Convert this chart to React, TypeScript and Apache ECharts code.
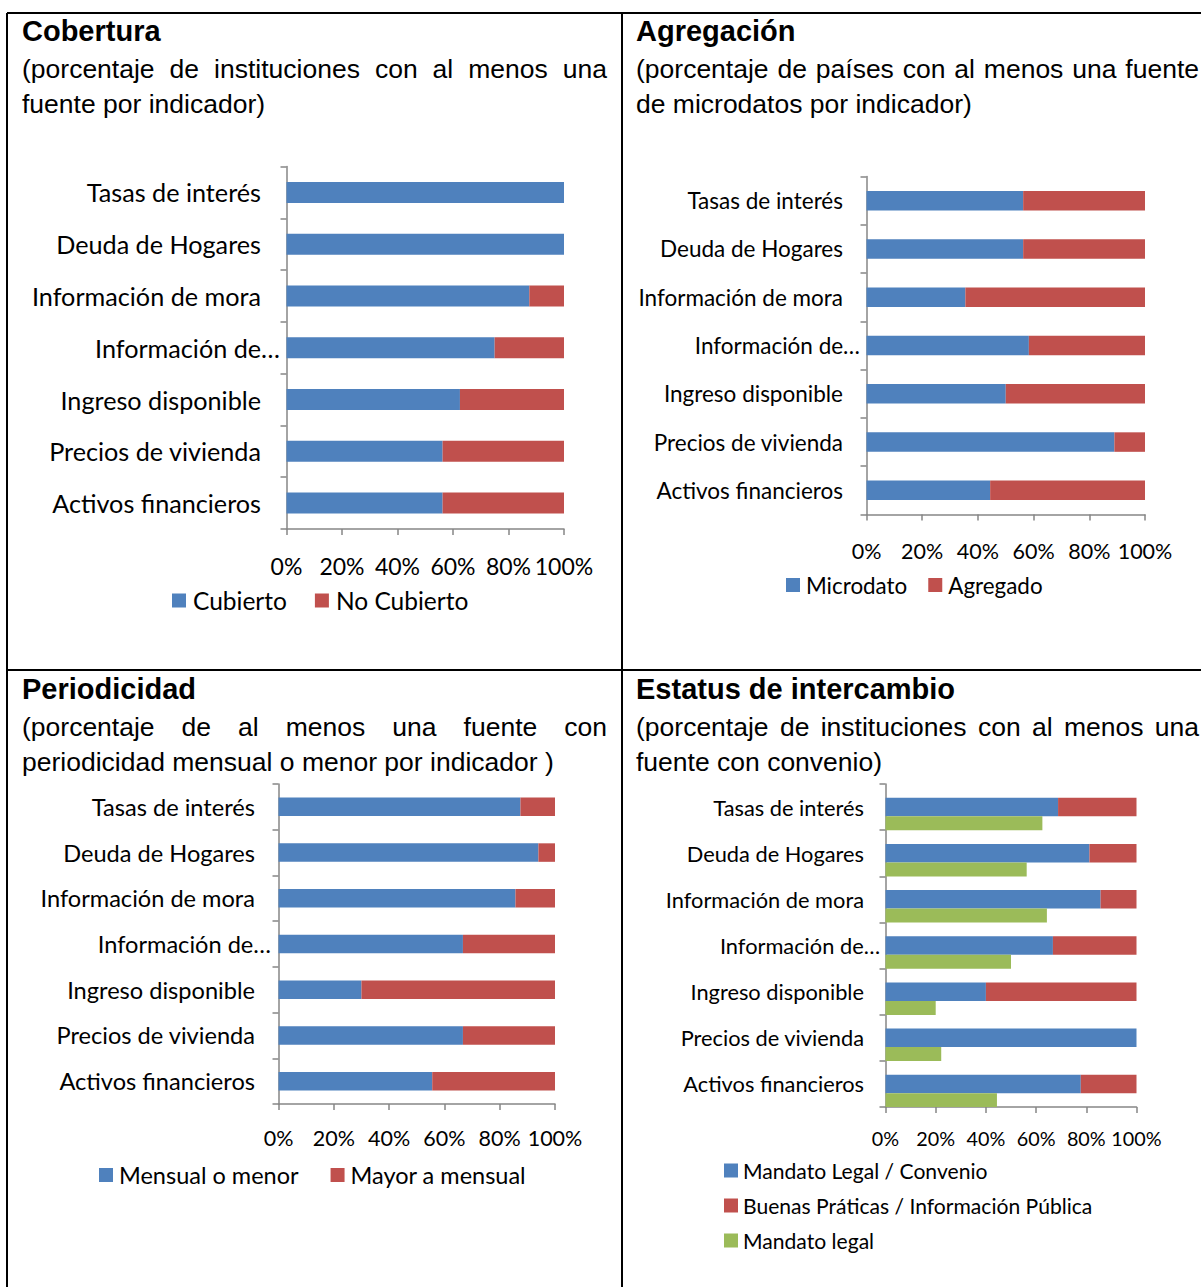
import { useEffect, useRef } from "react";
import * as echarts from "echarts";

// Indicators, top to bottom
const categories = [
  "Tasas de interés",
  "Deuda de Hogares",
  "Información de mora",
  "Información de…",
  "Ingreso disponible",
  "Precios de vivienda",
  "Activos financieros",
];

// Cobertura
const cubierto = [100, 100, 87.5, 75, 62.5, 56.25, 56.25];
const noCubierto = [0, 0, 12.5, 25, 37.5, 43.75, 43.75];

// Agregación
const microdato = [56.25, 56.25, 35.5, 58.3, 50, 89, 44.4];
const agregado = [43.75, 43.75, 64.5, 41.7, 50, 11, 55.6];

// Periodicidad
const mensualOMenor = [87.5, 94, 85.7, 66.7, 30, 66.7, 55.6];
const mayorAMensual = [12.5, 6, 14.3, 33.3, 70, 33.3, 44.4];

// Estatus de intercambio
const mandatoConvenio = [68.75, 81.25, 85.7, 66.7, 40, 100, 77.8];
const buenasPracticas = [31.25, 18.75, 14.3, 33.3, 60, 0, 22.2];
const mandatoLegal = [62.5, 56.25, 64.3, 50, 20, 22.2, 44.4];

const BLUE = "#4F81BD";
const RED = "#C0504D";
const GREEN = "#9BBB59";
const AXIS = "#868686";
const LABEL_FONT = "Lato";
const HEAD_FONT = '"Liberation Sans", Arial, sans-serif';

const TITLE_FONT = `bold 29px ${HEAD_FONT}`;
const SUB_FONT = `26.5px ${HEAD_FONT}`;

let measureCtx: CanvasRenderingContext2D | null = null;
function textWidth(text: string, font: string) {
  if (!measureCtx) measureCtx = document.createElement("canvas").getContext("2d");
  measureCtx!.font = font;
  return measureCtx!.measureText(text).width;
}

// A line of text stretched word by word across a given width
function justified(text: string, x: number, y: number, width: number, font: string) {
  const words = text.split(" ");
  const widths = words.map((w) => textWidth(w, font));
  const total = widths.reduce((a, b) => a + b, 0);
  const gap = (width - total) / (words.length - 1);
  if (gap <= textWidth(" ", font)) {
    return [{ type: "text", x, y, style: { text, font, fill: "#000", verticalAlign: "middle" } }];
  }
  const out: any[] = [];
  let cx = x;
  words.forEach((w, i) => {
    out.push({ type: "text", x: cx, y, style: { text: w, font, fill: "#000", verticalAlign: "middle" } });
    cx += widths[i] + gap;
  });
  return out;
}

function plain(text: string, x: number, y: number, font: string) {
  return { type: "text", x, y, style: { text, font, fill: "#000", verticalAlign: "middle" } };
}

// overhang: how far a truncated label reaches past the other labels toward the axis
const panels = [
  { grid: { left: 286.5, top: 166.5, width: 277.5, height: 362.5 }, cat: 25.2, catMargin: 25.5, overhang: 19, tick: 23, tickMargin: 25 },
  { grid: { left: 866.5, top: 176.5, width: 278.5, height: 338 }, cat: 22.5, catMargin: 23.5, overhang: 17, tick: 21.5, tickMargin: 25 },
  { grid: { left: 278.5, top: 784, width: 276.5, height: 320 }, cat: 23.6, catMargin: 23.5, overhang: 16, tick: 21.5, tickMargin: 23 },
  { grid: { left: 885.5, top: 784, width: 251, height: 323 }, cat: 21.8, catMargin: 21.5, overhang: 16, tick: 19.8, tickMargin: 21 },
];

function barSeries(name: string, data: number[], color: string, idx: number, width: number, stack?: string) {
  return {
    type: "bar",
    name,
    data,
    stack,
    xAxisIndex: idx,
    yAxisIndex: idx,
    barWidth: width,
    barGap: "0%",
    itemStyle: { color },
    emphasis: { disabled: true },
  };
}

function legendText(size: number, pad = 2) {
  return { fontFamily: LABEL_FONT, fontSize: size, color: "#000", padding: [0, 0, 0, pad] };
}

export default function App() {
  const ref = useRef<HTMLDivElement>(null);

  useEffect(() => {
    if (!ref.current) return;
    const chart = echarts.init(ref.current, undefined, { renderer: "svg" });

    const graphics: any[] = [
      // table rules
      { type: "line", shape: { x1: 7, y1: 13, x2: 1201, y2: 13 }, style: { stroke: "#000", lineWidth: 2 } },
      { type: "line", shape: { x1: 7, y1: 13, x2: 7, y2: 1287 }, style: { stroke: "#000", lineWidth: 2 } },
      { type: "line", shape: { x1: 622, y1: 13, x2: 622, y2: 1287 }, style: { stroke: "#000", lineWidth: 2 } },
      { type: "line", shape: { x1: 7, y1: 670, x2: 1201, y2: 670 }, style: { stroke: "#000", lineWidth: 2 } },
      // headings
      plain("Cobertura", 22, 31, TITLE_FONT),
      ...justified("(porcentaje de instituciones con al menos una", 22, 69, 585, SUB_FONT),
      plain("fuente por indicador)", 22, 104, SUB_FONT),
      plain("Agregación", 636, 31, TITLE_FONT),
      ...justified("(porcentaje de países con al menos una fuente", 636, 69, 563, SUB_FONT),
      plain("de microdatos por indicador)", 636, 104, SUB_FONT),
      plain("Periodicidad", 22, 689, TITLE_FONT),
      ...justified("(porcentaje de al menos una fuente con", 22, 727, 585, SUB_FONT),
      plain("periodicidad mensual o menor por indicador )", 22, 762, SUB_FONT),
      plain("Estatus de intercambio", 636, 689, TITLE_FONT),
      ...justified("(porcentaje de instituciones con al menos una", 636, 727, 563, SUB_FONT),
      plain("fuente con convenio)", 636, 762, SUB_FONT),
    ];

    const option: any = {
      animation: false,
      backgroundColor: "#fff",
      grid: panels.map((p) => ({ ...p.grid, containLabel: false })),
      xAxis: panels.map((p, i) => ({
        type: "value",
        gridIndex: i,
        min: 0,
        max: 100,
        interval: 20,
        axisLine: { show: true, lineStyle: { color: AXIS, width: 1.5 } },
        axisTick: { show: true, length: 6, lineStyle: { color: AXIS, width: 1.5 } },
        splitLine: { show: false },
        axisLabel: {
          formatter: "{value}%",
          fontFamily: LABEL_FONT,
          fontSize: p.tick,
          color: "#000",
          margin: p.tickMargin,
        },
      })),
      yAxis: panels.map((p, i) => ({
        type: "category",
        gridIndex: i,
        inverse: true,
        data: categories.map((c) =>
          c.endsWith("…") ? { value: c, textStyle: { padding: [0, -p.overhang, 0, 0] } } : c
        ),
        axisLine: { show: true, lineStyle: { color: AXIS, width: 1.5 } },
        axisTick: { show: true, length: 6, alignWithLabel: false, lineStyle: { color: AXIS, width: 1.5 } },
        axisLabel: { fontFamily: LABEL_FONT, fontSize: p.cat, color: "#000", margin: p.catMargin },
      })),
      legend: [
        {
          data: ["Cubierto", "No Cubierto"],
          left: 172, top: 588, padding: 0, itemWidth: 14, itemHeight: 14, itemGap: 28, icon: "rect",
          textStyle: legendText(24.5), selectedMode: false,
        },
        {
          data: ["Microdato", "Agregado"],
          left: 786, top: 574, padding: 0, itemWidth: 14, itemHeight: 14, itemGap: 21, icon: "rect",
          textStyle: legendText(22.4, 1), selectedMode: false,
        },
        {
          data: ["Mensual o menor", "Mayor a mensual"],
          left: 99, top: 1163, padding: 0, itemWidth: 14, itemHeight: 14, itemGap: 32, icon: "rect",
          textStyle: legendText(23.5, 1), selectedMode: false,
        },
        {
          data: ["Mandato Legal / Convenio", "Buenas Práticas / Información Pública", "Mandato legal"],
          left: 724, top: 1160, padding: 0, orient: "vertical", itemWidth: 14, itemHeight: 14, itemGap: 14, icon: "rect",
          textStyle: legendText(21.1, 0), selectedMode: false,
        },
      ],
      series: [
        barSeries("Cubierto", cubierto, BLUE, 0, 21, "c"),
        barSeries("No Cubierto", noCubierto, RED, 0, 21, "c"),
        barSeries("Microdato", microdato, BLUE, 1, 19.5, "a"),
        barSeries("Agregado", agregado, RED, 1, 19.5, "a"),
        barSeries("Mensual o menor", mensualOMenor, BLUE, 2, 18.5, "p"),
        barSeries("Mayor a mensual", mayorAMensual, RED, 2, 18.5, "p"),
        // empty slot above the stacked bar keeps it centred on its label
        { type: "bar", name: "", data: [], xAxisIndex: 3, yAxisIndex: 3, barWidth: 14, barGap: "0%", silent: true },
        barSeries("Mandato Legal / Convenio", mandatoConvenio, BLUE, 3, 18.5, "e"),
        barSeries("Buenas Práticas / Información Pública", buenasPracticas, RED, 3, 18.5, "e"),
        barSeries("Mandato legal", mandatoLegal, GREEN, 3, 14),
      ],
      graphic: graphics,
    };

    chart.setOption(option);
    return () => chart.dispose();
  }, []);

  return (
    <div
      ref={ref}
      style={{ position: "absolute", left: 0, top: 0, width: 1201, height: 1287, background: "#fff" }}
    />
  );
}
